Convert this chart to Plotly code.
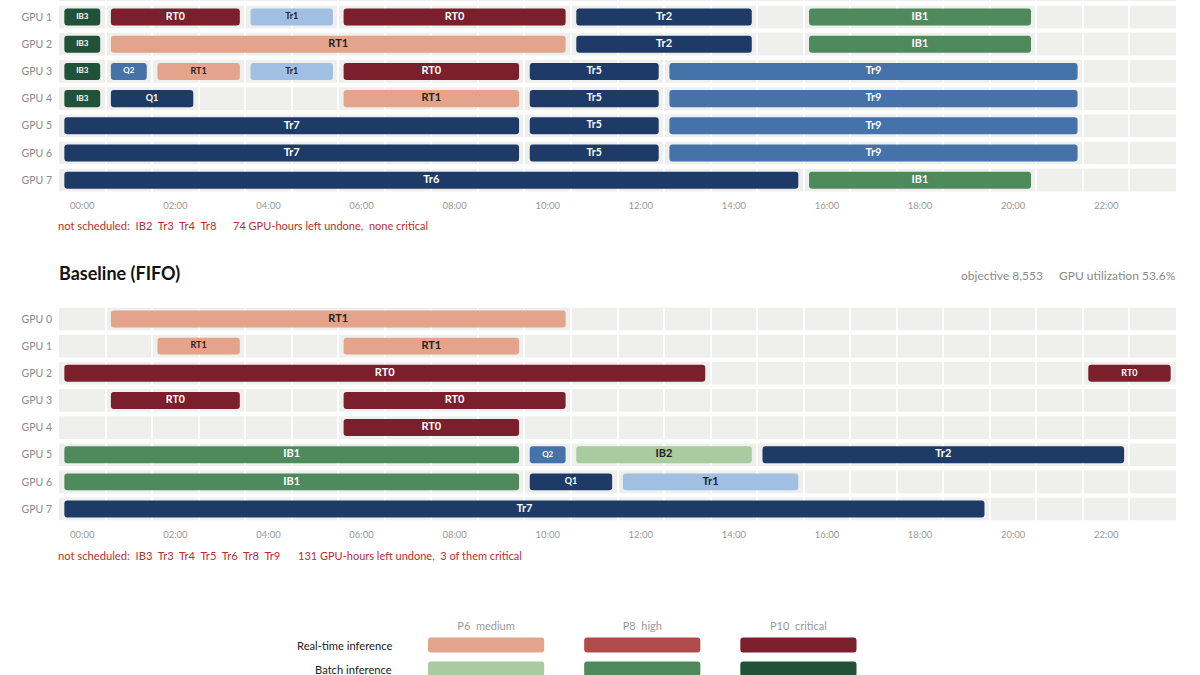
import plotly.graph_objects as go

# hour slots 0..23, each job occupies whole slots
hour_labels = ['00:00', '02:00', '04:00', '06:00', '08:00', '10:00',
               '12:00', '14:00', '16:00', '18:00', '20:00', '22:00']
hour_ticks = [0, 2, 4, 6, 8, 10, 12, 14, 16, 18, 20, 22]

# optimised schedule (top panel, GPU 0 row is cut off)
top_gpus = [0, 1, 2, 3, 4, 5, 6, 7]
top_job = ['IB3', 'RT0', 'Tr1', 'RT0', 'Tr2', 'IB1',
           'IB3', 'RT1', 'Tr2', 'IB1',
           'IB3', 'Q2', 'RT1', 'Tr1', 'RT0', 'Tr5', 'Tr9',
           'IB3', 'Q1', 'RT1', 'Tr5', 'Tr9',
           'Tr7', 'Tr5', 'Tr9',
           'Tr7', 'Tr5', 'Tr9',
           'Tr6', 'IB1']
top_gpu = [1, 1, 1, 1, 1, 1,
           2, 2, 2, 2,
           3, 3, 3, 3, 3, 3, 3,
           4, 4, 4, 4, 4,
           5, 5, 5,
           6, 6, 6,
           7, 7]
top_start = [0, 1, 4, 6, 11, 16,
             0, 1, 11, 16,
             0, 1, 2, 4, 6, 10, 13,
             0, 1, 6, 10, 13,
             0, 10, 13,
             0, 10, 13,
             0, 16]
top_dur = [1, 3, 2, 5, 4, 5,
           1, 10, 4, 5,
           1, 1, 2, 2, 4, 3, 9,
           1, 2, 4, 3, 9,
           10, 3, 9,
           10, 3, 9,
           16, 5]
top_unscheduled = ['IB2', 'Tr3', 'Tr4', 'Tr8']
top_summary = '74 GPU-hours left undone,\u00a0\u00a0none critical'

# baseline FIFO schedule (bottom panel)
fifo_gpus = [0, 1, 2, 3, 4, 5, 6, 7]
fifo_job = ['RT1',
            'RT1', 'RT1',
            'RT0', 'RT0',
            'RT0', 'RT0',
            'RT0',
            'IB1', 'Q2', 'IB2', 'Tr2',
            'IB1', 'Q1', 'Tr1',
            'Tr7']
fifo_gpu = [0, 1, 1, 2, 2, 3, 3, 4, 5, 5, 5, 5, 6, 6, 6, 7]
fifo_start = [1, 2, 6, 0, 22, 1, 6, 6, 0, 10, 11, 15, 0, 10, 12, 0]
fifo_dur = [10, 2, 4, 14, 2, 3, 5, 4, 10, 1, 4, 8, 10, 2, 4, 20]
fifo_unscheduled = ['IB3', 'Tr3', 'Tr4', 'Tr5', 'Tr6', 'Tr8', 'Tr9']
fifo_summary = '131 GPU-hours left undone,\u00a0\u00a03 of them critical'
fifo_objective = 'objective 8,553'
fifo_util = 'GPU utilization 53.6%'

job_colors = {
    'RT0': '#7b1f2c', 'RT1': '#e4a38b',
    'IB1': '#4f8a5c', 'IB2': '#a8cba0', 'IB3': '#1f5238',
    'Q1': '#1d3b66', 'Q2': '#4672aa',
    'Tr1': '#a1bfe0', 'Tr2': '#1d3b66', 'Tr5': '#1d3b66',
    'Tr6': '#1d3b66', 'Tr7': '#1d3b66', 'Tr9': '#4672aa',
}
light_jobs = ['RT1', 'IB2', 'Tr1']

# legend swatches
legend_cols = ['P6\u00a0\u00a0medium', 'P8\u00a0\u00a0high', 'P10\u00a0\u00a0critical']
legend_rows = ['Real-time inference', 'Batch inference']
legend_colors = [['#e4a38b', '#b14b4b', '#7b1f2c'],
                 ['#a8cba0', '#4f8a5c', '#1f5238']]

FONT = 'Lato'
PAD = 0.115
BAR_H = 0.626
RED = '#b5302f'


def size_for(d):
    # shorter bars get smaller labels
    if d == 1:
        return 8
    if d == 2:
        return 9
    if d == 3:
        return 10.5
    return 11


def panel_traces(jobs, gpus, starts, durs, xa, ya):
    bars = go.Bar(
        orientation='h', y=gpus,
        base=[s - 0.5 + PAD for s in starts],
        x=[d - 2 * PAD for d in durs],
        width=BAR_H, textposition='none',
        marker=dict(color=[job_colors[j] for j in jobs], cornerradius=3, line=dict(width=0)),
        xaxis=xa, yaxis=ya, hoverinfo='skip', showlegend=False)
    labels = go.Scatter(
        x=[s - 0.5 + d / 2 for s, d in zip(starts, durs)], y=gpus,
        mode='text', text=['<b>%s</b>' % j for j in jobs],
        textposition='middle center',
        textfont=dict(family=FONT, size=[size_for(d) for d in durs],
                      color=['#222222' if j in light_jobs else 'white' for j in jobs]),
        xaxis=xa, yaxis=ya, hoverinfo='skip', showlegend=False)
    return [bars, labels]


fig = go.Figure()
fig.add_traces(panel_traces(top_job, top_gpu, top_start, top_dur, 'x', 'y'))
fig.add_traces(panel_traces(fifo_job, fifo_gpu, fifo_start, fifo_dur, 'x2', 'y2'))

for r, row in enumerate(legend_rows):
    fig.add_trace(go.Bar(
        orientation='h', y=[r] * 3, base=[c - 0.372 for c in range(3)], x=[0.744] * 3,
        width=0.625, marker=dict(color=legend_colors[r], cornerradius=3, line=dict(width=0)),
        xaxis='x3', yaxis='y3', hoverinfo='skip', showlegend=False))
    fig.add_annotation(text=row, x=394 / 1200, xref='paper', y=r, yref='y3',
                       xanchor='right', yanchor='middle', showarrow=False,
                       font=dict(family=FONT, size=11.2, color='#222222'))

# gray row bands behind the gridlines
shapes = []
for ref, gl in [('', top_gpus), ('2', fifo_gpus)]:
    for g in gl:
        shapes.append(dict(type='rect', xref='x' + ref, yref='y' + ref,
                           x0=-0.5, x1=23.5, y0=g - 0.418, y1=g + 0.418,
                           fillcolor='#efefed', line=dict(width=0), layer='below'))

xa = dict(range=[-0.5, 23.5], tickvals=hour_ticks, ticktext=hour_labels,
          showgrid=False, zeroline=False, showline=False, ticks='',
          tickfont=dict(family=FONT, size=9.5, color='#9a9a9a'), ticklabelstandoff=5,
          minor=dict(tickvals=[h + 0.5 for h in range(23)], showgrid=True,
                     gridcolor='white', gridwidth=2, ticks=''),
          fixedrange=True)
ya = dict(showgrid=False, zeroline=False, showline=False, ticks='',
          tickfont=dict(family=FONT, size=10.5, color='#8a8a8a'), ticklabelstandoff=6)

X0, X1 = 59 / 1200, 1176 / 1200

fig.update_layout(
    width=1200, height=675, margin=dict(l=0, r=0, t=0, b=0),
    paper_bgcolor='white', plot_bgcolor='white', barmode='overlay',
    font=dict(family=FONT),
    shapes=shapes,
    xaxis=dict(xa, domain=[X0, X1], anchor='y'),
    yaxis=dict(ya, domain=[(675 - 193.8) / 675, 1.0], anchor='x',
               range=[7.5, 1 - 17 / 27.15],
               tickvals=top_gpus, ticktext=['GPU %d' % g for g in top_gpus]),
    xaxis2=dict(xa, domain=[X0, X1], anchor='y2'),
    yaxis2=dict(ya, domain=[(675 - 522.6) / 675, (675 - 305.4) / 675], anchor='x2',
                range=[7.5, -0.5],
                tickvals=fifo_gpus, ticktext=['GPU %d' % g for g in fifo_gpus]),
    xaxis3=dict(domain=[408 / 1200, 876.5 / 1200], anchor='y3', range=[-0.5, 2.5],
                side='top', tickvals=[0, 1, 2], ticktext=legend_cols, ticks='',
                showgrid=False, zeroline=False, showline=False,
                tickfont=dict(family=FONT, size=11, color='#9a9a9a')),
    yaxis3=dict(domain=[0, (675 - 633) / 675], anchor='x3', range=[1.25, -0.5],
                showticklabels=False, ticks='',
                showgrid=False, zeroline=False, showline=False),
)


def ann(text, x, y, size, color, anchor='left'):
    fig.add_annotation(text=text, x=x / 1200, y=(675 - y) / 675, xref='paper', yref='paper',
                       xanchor=anchor, yanchor='middle', showarrow=False,
                       font=dict(family=FONT, size=size, color=color))


sep = '\u00a0\u00a0'
ann('not scheduled:' + sep + sep.join(top_unscheduled), 56, 226, 11.2, RED)
ann(top_summary, 231, 226, 11, RED)
ann('<b>Baseline (FIFO)</b>', 57, 273, 18, '#111111')
ann(fifo_objective, 1045, 275, 12, '#8a8a8a', 'right')
ann(fifo_util, 1178, 275, 12, '#8a8a8a', 'right')
ann('not scheduled:' + sep + sep.join(fifo_unscheduled), 56, 555, 11.2, RED)
ann(fifo_summary, 296, 555, 11, RED)

fig.write_html('out.html', config={'displayModeBar': False},
               post_script="document.body.style.margin='0';")
